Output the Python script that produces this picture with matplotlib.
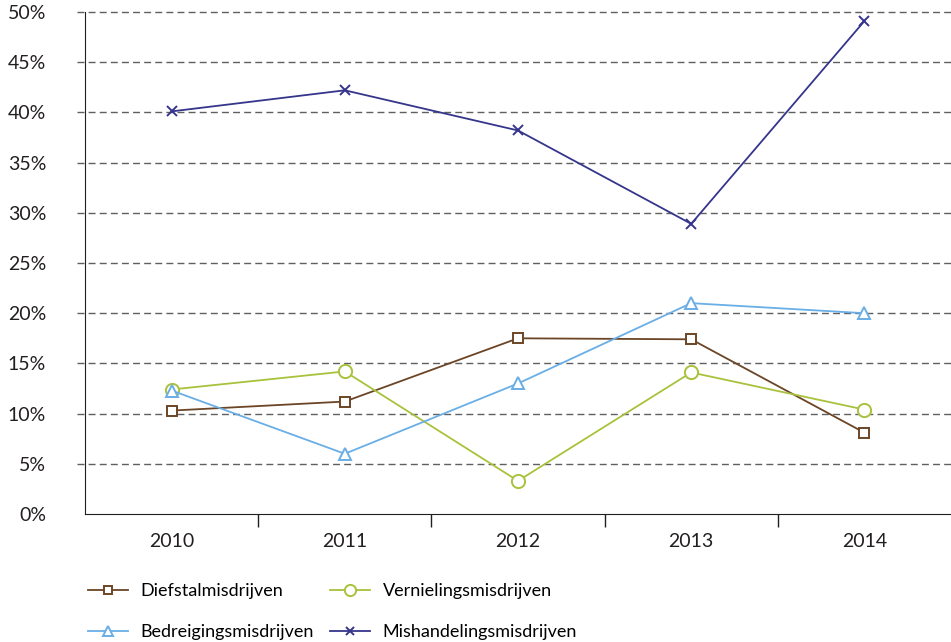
import matplotlib.pyplot as plt
import numpy as np

plt.rcParams['font.family'] = ['Lato', 'DejaVu Sans']

years = ['2010', '2011', '2012', '2013', '2014']
diefstal = [10.3, 11.2, 17.5, 17.4, 8.1]
vernieling = [12.4, 14.2, 3.3, 14.1, 10.4]
bedreiging = [12.3, 6.0, 13.0, 21.0, 20.0]
mishandeling = [40.1, 42.2, 38.2, 28.9, 49.1]
yticks = [0, 5, 10, 15, 20, 25, 30, 35, 40, 45, 50]

fig = plt.figure(figsize=(9.51, 6.42), dpi=100)
ax = fig.add_axes([85 / 951, 128 / 642, 866 / 951, 502 / 642])

x = np.arange(len(years))
series = [
    ('Diefstalmisdrijven', diefstal, '#6b4526', 's', 7.5),
    ('Vernielingsmisdrijven', vernieling, '#a8c23c', 'o', 9.5),
    ('Bedreigingsmisdrijven', bedreiging, '#6aaee6', '^', 9),
    ('Mishandelingsmisdrijven', mishandeling, '#35358c', 'x', 7),
]
handles = []
for name, vals, col, mk, ms in series:
    h, = ax.plot(x, vals, color=col, lw=1.3, marker=mk, markersize=ms,
                 markerfacecolor='white' if mk != 'x' else col,
                 markeredgecolor=col, markeredgewidth=1.4, label=name,
                 clip_on=False, zorder=3)
    handles.append(h)

ax.set_xlim(-0.5, 4.5)
ax.set_ylim(0, 50)
ax.set_xticks(x)
ax.set_xticklabels(years)
ax.set_xticks(np.arange(0.5, 4.5, 1), minor=True)
ax.tick_params(axis='x', which='major', length=0, pad=14, labelsize=14, colors='#231f20')
ax.tick_params(axis='x', which='minor', length=9, width=1, color='#231f20')
ax.set_yticks(yticks)
ax.set_yticklabels([f'{v}%' for v in yticks])
ax.tick_params(axis='y', length=0, pad=28, labelsize=14, colors='#231f20')

for v in yticks[1:]:
    ax.plot([-0.547, 4.5], [v, v], color='#606060', lw=1, ls=(0, (5, 3)),
            clip_on=False, zorder=1)

ax.spines['top'].set_visible(False)
ax.spines['right'].set_visible(False)
ax.spines['left'].set_color('#231f20')
ax.spines['bottom'].set_color('#231f20')

order = [handles[0], handles[2], handles[1], handles[3]]
fig.legend(handles=order, labels=[h.get_label() for h in order], ncol=2,
           loc='lower left', bbox_to_anchor=(72 / 951, -0.022), frameon=False,
           fontsize=13, handlelength=2.2, columnspacing=0.9, labelspacing=1.35,
           handletextpad=0.7, markerscale=0.85)

fig.savefig('out.png', dpi=100)
